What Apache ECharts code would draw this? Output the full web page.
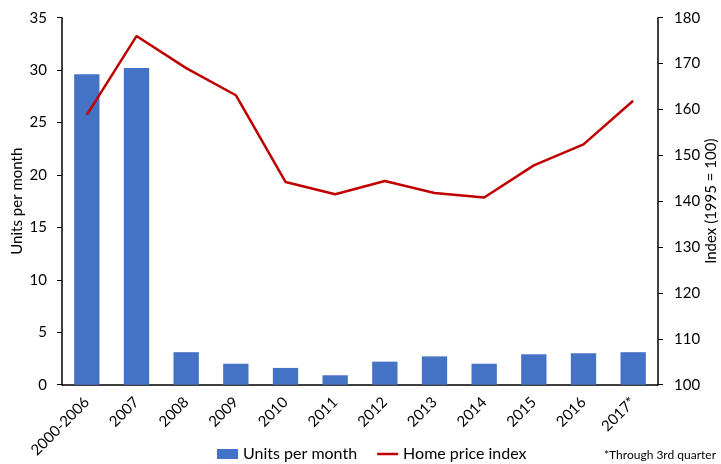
<!DOCTYPE html>
<html><head><meta charset="utf-8">
<script src="https://cdn.jsdelivr.net/npm/echarts@6/dist/echarts.min.js"></script>
<style>html,body{margin:0;padding:0;background:#fff}#c{width:721px;height:464px}</style>
</head><body><div id="c"></div>
<script>
var categories = ['2000-2006','2007','2008','2009','2010','2011','2012','2013','2014','2015','2016','2017*'];
var unitsPerMonth = [29.6, 30.2, 3.1, 2.0, 1.6, 0.9, 2.2, 2.7, 2.0, 2.9, 3.0, 3.1];
var homePriceIndex = [158.8, 176.0, 169.0, 163.1, 144.2, 141.5, 144.4, 141.8, 140.8, 147.8, 152.4, 161.9];
var leftTicks = {min: 0, max: 35, interval: 5};
var rightTicks = {min: 100, max: 180, interval: 10};

var FONT = 'Lato';
var chart = echarts.init(document.getElementById('c'), null, {renderer: 'canvas'});
chart.setOption({
  animation: false,
  textStyle: {fontFamily: FONT},
  grid: {left: 62, right: 63, top: 17.7, bottom: 79.3, containLabel: false, outerBoundsMode: 'none'},
  legend: {
    top: 441, left: 212,
    itemWidth: 21, itemHeight: 10, itemGap: 20,
    textStyle: {fontFamily: FONT, fontSize: 16, color: '#000'},
    data: [
      {name: 'Units per month', icon: 'rect'},
      {name: 'Home price index', icon: 'path://M0,0H21V2.5H0Z'}
    ]
  },
  graphic: [{
    type: 'text', right: 5, bottom: 3,
    style: {text: '*Through 3rd quarter', font: '12px ' + FONT, fill: '#000'}
  }],
  xAxis: {
    type: 'category', data: categories,
    axisLine: {lineStyle: {color: '#000', width: 1.5}},
    axisTick: {show: false},
    axisLabel: {rotate: 45, fontSize: 15, color: '#000', margin: 15, fontFamily: FONT}
  },
  yAxis: [{
    type: 'value', min: leftTicks.min, max: leftTicks.max, interval: leftTicks.interval,
    name: 'Units per month', nameLocation: 'middle', nameGap: 37, nameMoveOverlap: false,
    nameTextStyle: {fontSize: 15, color: '#000', fontFamily: FONT},
    axisLine: {show: true, lineStyle: {color: '#000', width: 1.5}},
    axisTick: {show: true, length: 5, lineStyle: {color: '#000'}},
    axisLabel: {fontSize: 15, color: '#000', margin: 15, fontFamily: FONT},
    splitLine: {show: false}
  }, {
    type: 'value', min: rightTicks.min, max: rightTicks.max, interval: rightTicks.interval,
    name: 'Index (1995 = 100)', nameLocation: 'middle', nameGap: 46, nameRotate: 90, nameMoveOverlap: false,
    nameTextStyle: {fontSize: 15, color: '#000', fontFamily: FONT},
    axisLine: {show: true, lineStyle: {color: '#000', width: 1.5}},
    axisTick: {show: true, length: 5, lineStyle: {color: '#000'}},
    axisLabel: {fontSize: 15, color: '#000', margin: 16, fontFamily: FONT},
    splitLine: {show: false}
  }],
  series: [{
    name: 'Units per month', type: 'bar', data: unitsPerMonth, yAxisIndex: 0,
    barWidth: '51%', itemStyle: {color: '#4472C4'}
  }, {
    name: 'Home price index', type: 'line', data: homePriceIndex, yAxisIndex: 1,
    symbol: 'none', lineStyle: {color: '#C00000', width: 2.5}, itemStyle: {color: '#C00000'}
  }]
});
</script></body></html>
